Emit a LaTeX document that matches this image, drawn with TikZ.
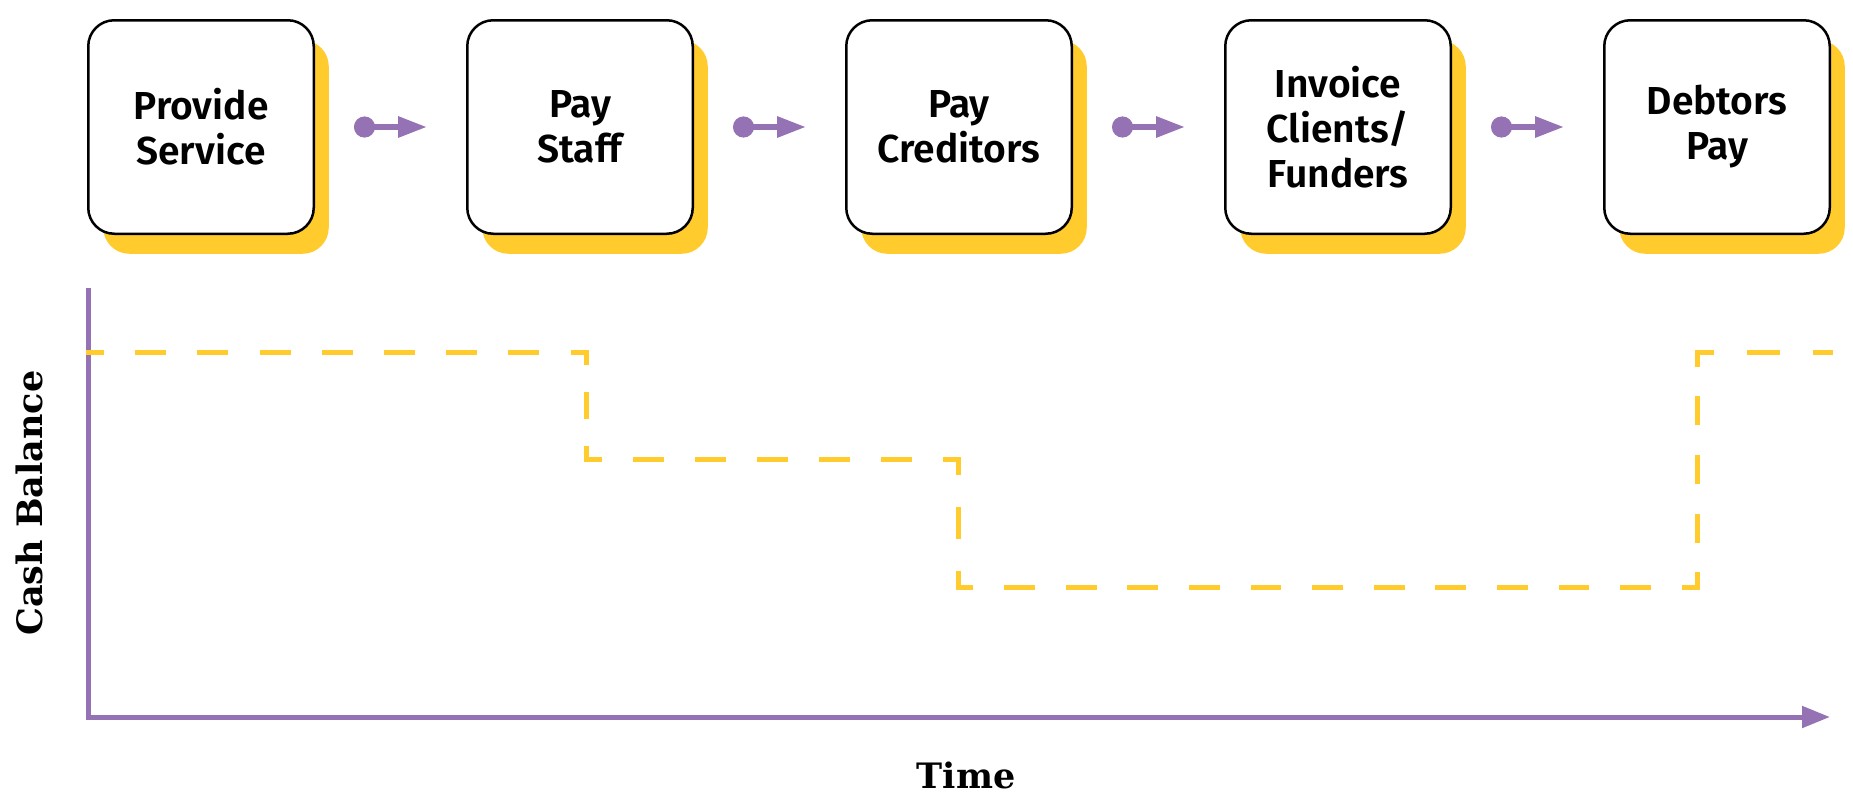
\documentclass[tikz,border=0pt]{standalone}
\usepackage{fontspec}
\setmainfont{Fira Sans}[BoldFont={Fira Sans SemiBold}]
\newfontfamily\slabfont{DejaVu Serif}
\usetikzlibrary{positioning,arrows.meta,shadows}
\definecolor{cashpurple}{RGB}{148,114,180}
\definecolor{cashyellow}{RGB}{255,203,45}
\tikzset{
  task/.style={draw=black,line width=1.25pt,fill=white,rounded corners=13pt,
    minimum width=112.75pt,minimum height=106.75pt,align=center,inner sep=0pt,
    font=\fontsize{19.5}{22.5}\selectfont\bfseries,
    drop shadow={shadow xshift=7.5pt,shadow yshift=-10pt,fill=cashyellow,opacity=1}},
  flow/.style={cashpurple,line width=3pt,shorten <=19.5pt,shorten >=19.5pt,
    {Circle[length=10.5pt]}-{Triangle[length=14.5pt,width=10pt]}},
  axis/.style={cashpurple,line width=2.5pt,line join=miter,-{Triangle[length=14pt,width=10.5pt]}},
  cash/.style={cashyellow,line width=2.5pt,line cap=rect},
  axislabel/.style={font=\slabfont\fontsize{17.5}{20}\selectfont\bfseries,inner sep=0pt,anchor=base}
}
\begin{document}
\begin{tikzpicture}[x=0.5pt,y=-0.5pt]
	\useasboundingbox (0,0) rectangle (1853,793);

	%steps
	\node[task] (provide) at (201,127) {Provide\\Service};
	\node[task,right=75.5pt of provide] (staff) {Pay\\Staff};
	\node[task,right=75.5pt of staff] (creditors) {Pay\\Creditors};
	\node[task,right=75.5pt of creditors] (invoice) {Invoice\\Clients/\\Funders};
	\node[task,right=75.5pt of invoice] (debtors) {Debtors\\Pay};

	%arrows between steps
	\foreach \a/\b in {provide/staff,staff/creditors,creditors/invoice,invoice/debtors}
		\draw[flow] (\a) -- (\b);

	%axes
	\coordinate (ytop) at (88.5,288);
	\coordinate (origin) at (88.5,717);
	\coordinate (xend) at (1830,717);
	\draw[axis] (ytop) -- (origin) -- (xend);
	\node[axislabel] (timelabel) at (966,788) {Time};
	\node[axislabel,rotate=90] (cashlabel) at (42,503) {Cash Balance};

	%cash balance steps
	\coordinate (c0) at (88.5,352);
	\coordinate (c1) at (586,352);
	\coordinate (c2) at (586,459);
	\coordinate (c3) at (958,459);
	\coordinate (c4) at (958,587);
	\coordinate (c5) at (1697,587);
	\coordinate (c6) at (1697,352);
	\coordinate (c7) at (1830,352);
	\foreach \a/\b/\dOn/\dOff/\dPh in {c0/c1/13.05/18.05/6.52,c1/c2/10.88/15.88/5.44,
		c2/c3/13/18/6.5,c3/c4/13.5/18.5/6.75,c4/c5/12.9/17.9/6.45,
		c5/c6/12.19/17.19/6.09,c6/c7/14.13/19.13/7.06}
		\draw[cash,dash pattern=on \dOn pt off \dOff pt,dash phase=\dPh pt] (\a) -- (\b);
\end{tikzpicture}
\end{document}
